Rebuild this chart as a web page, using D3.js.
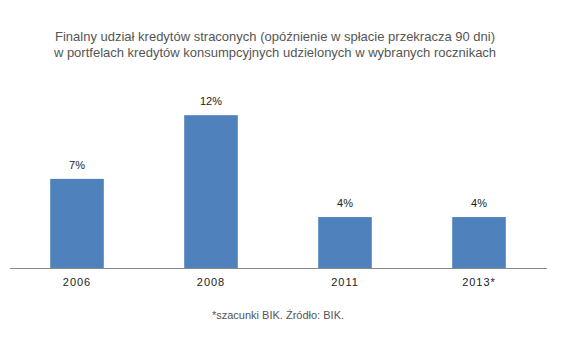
<!DOCTYPE html>
<html>
<head>
<meta charset="utf-8">
<script src="https://cdn.jsdelivr.net/npm/d3@7"></script>
<style>
  body { margin: 0; background: #fff; }
  svg { font-family: "Liberation Sans", Arial, sans-serif; }
</style>
</head>
<body>
<div id="chart"></div>
<script>
const years = ["2006", "2008", "2011", "2013*"];
const values = [0.07, 0.12, 0.04, 0.04];
const titleLines = [
  "Finalny udział kredytów straconych (opóźnienie w spłacie przekracza 90 dni)",
  "w portfelach kredytów konsumpcyjnych udzielonych w wybranych rocznikach"
];
const footnote = "*szacunki BIK. Źródło: BIK.";

const width = 562;
const height = 356;

const svg = d3.select("#chart")
  .append("svg")
  .attr("width", width)
  .attr("height", height);

const x = d3.scaleBand()
  .domain(years)
  .range([10, 546])
  .paddingInner(0.6)
  .paddingOuter(0.3);

const y = d3.scaleLinear()
  .domain([0, 0.15])
  .range([268, 77]);

// title
svg.append("g")
  .selectAll("text")
  .data(titleLines)
  .join("text")
  .attr("x", 275)
  .attr("y", (d, i) => 41 + i * 16)
  .attr("text-anchor", "middle")
  .attr("font-size", 13)
  .attr("fill", "#555")
  .text(d => d);

// bars
svg.append("g")
  .selectAll("rect")
  .data(values)
  .join("rect")
  .attr("x", (d, i) => x(years[i]))
  .attr("y", d => y(d))
  .attr("width", x.bandwidth())
  .attr("height", d => y(0) - y(d))
  .attr("fill", "#4F81BD");

// value labels
svg.append("g")
  .selectAll("text")
  .data(values)
  .join("text")
  .attr("x", (d, i) => x(years[i]) + x.bandwidth() / 2)
  .attr("y", d => y(d) - 10)
  .attr("text-anchor", "middle")
  .attr("font-size", 11)
  .attr("fill", "#222")
  .text(d => Math.round(d * 100) + "%");

// x axis
const axis = svg.append("g")
  .attr("transform", `translate(0,${y(0)})`)
  .call(d3.axisBottom(x).tickSize(0).tickPadding(10));
axis.select(".domain").attr("stroke", "#8a8a8a").attr("d", "M10,0.5H547");
axis.selectAll("text")
  .attr("font-size", 11)
  .attr("font-family", "Liberation Sans, Arial, sans-serif")
  .attr("letter-spacing", "1px")
  .attr("fill", "#222");

// footnote
svg.append("text")
  .attr("x", 278)
  .attr("y", 319)
  .attr("text-anchor", "middle")
  .attr("font-size", 11)
  .attr("fill", "#555")
  .text(footnote);
</script>
</body>
</html>
